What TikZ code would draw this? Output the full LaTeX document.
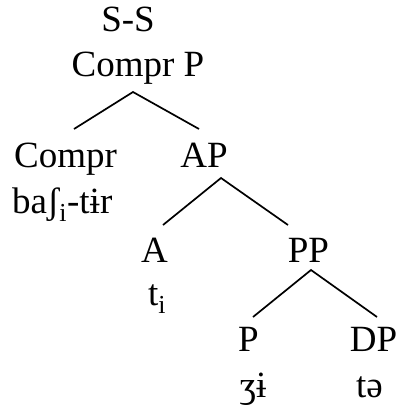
\documentclass[tikz,border=0pt]{standalone}
\usepackage{fontspec}
\setmainfont{Liberation Serif}
\begin{document}
\begin{tikzpicture}[x=1pt,y=1pt,
  lbl/.style={anchor=base,inner sep=0pt,font=\fontsize{37}{44}\selectfont},
  lblw/.style={anchor=base west,inner sep=0pt,font=\fontsize{37}{44}\selectfont},
  branch/.style={line width=1.7pt}]
\useasboundingbox (0,0) rectangle (398,-407);
% labels
\node[lbl] (SS) at (128,-31) {S-S};
\node[lbl] (CP) at (138,-76) {Compr P};
\node[lbl] (Compr) at (65.5,-167) {Compr};
\node[lblw] (bashi) at (12,-213) {baʃ\textsubscript{i}-tɨr};
\node[lbl] (AP) at (204,-167) {AP};
\node[lbl] (A) at (154.5,-262) {A};
\node[lbl] (ti) at (157,-305) {t\textsubscript{i}};
\node[lbl] (PP) at (308.5,-262) {PP};
\node[lbl] (P) at (248.5,-351) {P};
\node[lbl] (zhi) at (253,-397) {ʒɨ};
\node[lbl] (DP) at (373.5,-351) {DP};
\node[lbl] (te) at (369.5,-397) {tə};
% branch points
\coordinate (CPb) at (133,-92);
\coordinate (Comprt) at (74,-129);
\coordinate (APt) at (199,-129);
\coordinate (APb) at (221,-178);
\coordinate (At) at (163,-225);
\coordinate (PPt) at (288,-225);
\coordinate (PPb) at (311,-270);
\coordinate (Pt) at (253,-317);
\coordinate (DPt) at (377,-317);
\draw[branch] (Comprt) -- (CPb) -- (APt);
\draw[branch] (At) -- (APb) -- (PPt);
\draw[branch] (Pt) -- (PPb) -- (DPt);
\end{tikzpicture}
\end{document}
